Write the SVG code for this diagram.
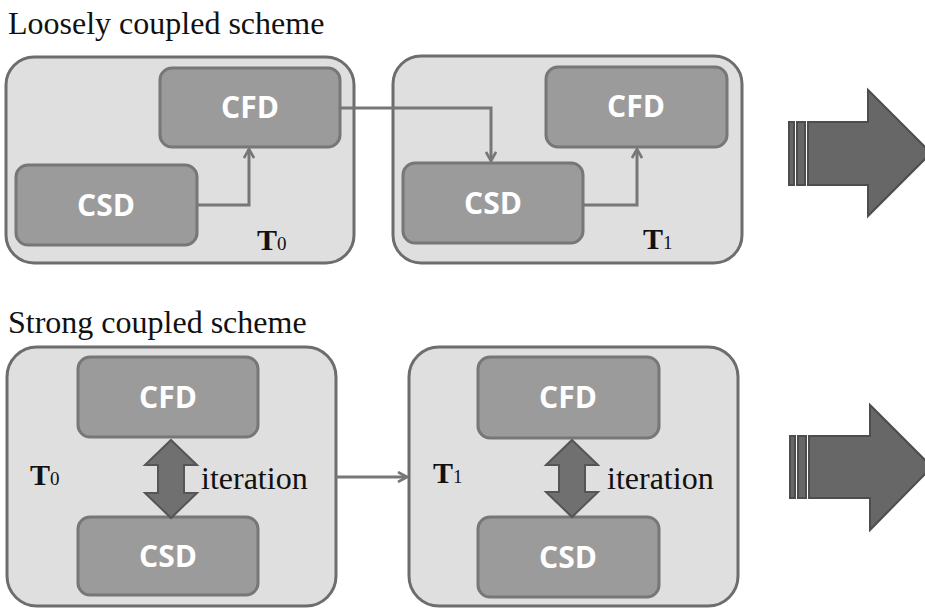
<svg xmlns="http://www.w3.org/2000/svg" width="925" height="608" viewBox="0 0 925 608">
<style>
.title{font-family:"Liberation Serif",serif;font-size:32px;fill:#111}
.panel{fill:#dfdfdf;stroke:#6d6d6d;stroke-width:3}
.box{fill:#9b9b9b;stroke:#777;stroke-width:3}
.lbl{font-family:"Open Sans","DejaVu Sans",sans-serif;font-weight:bold;font-size:30px;fill:#fff;text-anchor:middle}
.t{font-family:"Liberation Serif",serif;font-weight:bold;font-size:30px;fill:#111}
.sub{font-weight:normal;font-size:19px}
.it{font-family:"Liberation Serif",serif;font-size:32px;fill:#111}
.conn{fill:none;stroke:#777;stroke-width:3}
.dbl{fill:#707070;stroke:#555;stroke-width:2}
.big{fill:#676767;stroke:#4d4d4d;stroke-width:2}
</style>
<defs>
<marker id="ah" viewBox="0 0 12 12" refX="10" refY="6" markerWidth="12" markerHeight="12" markerUnits="userSpaceOnUse" orient="auto">
<path d="M1,1 L10,6 L1,11" fill="none" stroke="#777" stroke-width="2.6"/>
</marker>
</defs>
<rect width="925" height="608" fill="#fff"/>
<text class="title" x="8" y="34">Loosely coupled scheme</text>
<text class="title" x="8" y="333">Strong coupled scheme</text>

<g id="loose-t0">
<rect class="panel" x="6" y="57" width="348" height="206" rx="28"/>
<g id="loose-t0-cfd"><rect class="box" x="160" y="68" width="180" height="79" rx="12"/><text class="lbl" x="250" y="118">CFD</text></g>
<g id="loose-t0-csd"><rect class="box" x="16" y="165" width="181" height="80" rx="12"/><text class="lbl" x="106" y="216">CSD</text></g>
<text class="t" x="257" y="250">T<tspan class="sub">0</tspan></text>
</g>

<g id="loose-t1">
<rect class="panel" x="393" y="56" width="349" height="207" rx="28"/>
<g id="loose-t1-cfd"><rect class="box" x="546" y="67" width="181" height="80" rx="12"/><text class="lbl" x="636" y="117">CFD</text></g>
<g id="loose-t1-csd"><rect class="box" x="403" y="163" width="180" height="80" rx="12"/><text class="lbl" x="493" y="214">CSD</text></g>
<text class="t" x="643" y="249">T<tspan class="sub">1</tspan></text>
</g>

<g id="strong-t0">
<rect class="panel" x="7" y="347" width="329" height="259" rx="30"/>
<g id="strong-t0-cfd"><rect class="box" x="78" y="357" width="180" height="80" rx="12"/><text class="lbl" x="168" y="408">CFD</text></g>
<g id="strong-t0-csd"><rect class="box" x="78" y="517" width="180" height="78" rx="12"/><text class="lbl" x="168" y="567">CSD</text></g>
<polygon class="dbl" points="171,440 197,465 184,465 184,493 197,493 171,518 145,493 158,493 158,465 145,465"/>
<text class="it" x="201" y="489">iteration</text>
<text class="t" x="30" y="485">T<tspan class="sub">0</tspan></text>
</g>

<g id="strong-t1">
<rect class="panel" x="409" y="347" width="329" height="259" rx="30"/>
<g id="strong-t1-cfd"><rect class="box" x="478" y="357" width="181" height="81" rx="12"/><text class="lbl" x="568" y="408">CFD</text></g>
<g id="strong-t1-csd"><rect class="box" x="478" y="517" width="181" height="80" rx="12"/><text class="lbl" x="568" y="568">CSD</text></g>
<polygon class="dbl" points="572,440 598,465 585,465 585,492 598,492 572,517 546,492 559,492 559,465 546,465"/>
<text class="it" x="607" y="489">iteration</text>
<text class="t" x="433" y="483">T<tspan class="sub">1</tspan></text>
</g>

<g id="big-arrow-top">
<rect class="big" x="789" y="122" width="5" height="63"/>
<rect class="big" x="797" y="122" width="8" height="63"/>
<polygon class="big" points="808,122 868,122 868,90 931,153 868,216 868,185 808,185"/>
</g>
<g id="big-arrow-bottom">
<rect class="big" x="790" y="436" width="5" height="62"/>
<rect class="big" x="798" y="436" width="8" height="62"/>
<polygon class="big" points="809,436 870,436 870,405 932,467 870,530 870,498 809,498"/>
</g>

<g id="connectors">
<polyline class="conn" points="197,205 249,205 249,149" marker-end="url(#ah)"/>
<polyline class="conn" points="340,108 491,108 491,161" marker-end="url(#ah)"/>
<polyline class="conn" points="583,205 637,205 637,149" marker-end="url(#ah)"/>
<line class="conn" x1="336" y1="477" x2="407" y2="477" marker-end="url(#ah)"/>
</g>
</svg>
